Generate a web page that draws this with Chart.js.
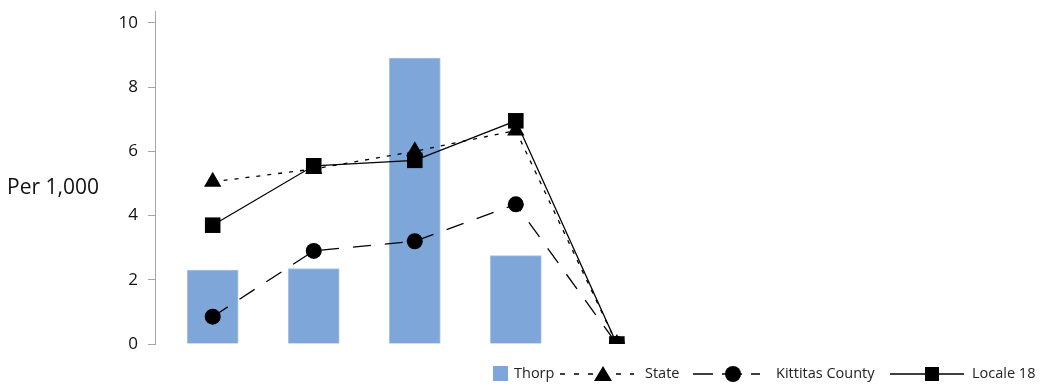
<!DOCTYPE html>
<html>
<head>
<meta charset="utf-8">
<script src="https://cdn.jsdelivr.net/npm/chart.js@4"></script>
<style>
    body { margin: 0; background: #fff; }
    #wrap { position: relative; width: 1047px; height: 386px; font-family: "Open Sans", sans-serif; }
    #ytitle { position: absolute; left: 7px; top: 172px; font-size: 21px; color: #111; white-space: nowrap; }
    .lg { position: absolute; top: 363px; font-size: 14.5px; color: #222; white-space: nowrap; line-height: 20px; }
    .sw { position: absolute; top: 364px; }
</style>
</head>
<body>
<div id="wrap">
    <canvas id="myChart" width="1047" height="386"></canvas>
    <div id="ytitle">Per 1,000</div>
    <div class="sw" style="left:493px;top:366px;width:15px;height:15px;background:#7ea6d8;"></div>
    <div class="lg" style="left:514px;">Thorp</div>
    <svg class="sw" style="left:558px;" width="80" height="20">
        <line x1="2" y1="10" x2="76" y2="10" stroke="#000" stroke-width="1.3" stroke-dasharray="5,9"></line>
        <polygon points="45,2 54,17 36,17" fill="#000"></polygon>
    </svg>
    <div class="lg" style="left:645px;">State</div>
    <svg class="sw" style="left:692px;" width="70" height="20">
        <line x1="1" y1="10" x2="68" y2="10" stroke="#000" stroke-width="1.3" stroke-dasharray="20,9"></line>
        <circle cx="41" cy="10" r="8" fill="#000"></circle>
    </svg>
    <div class="lg" style="left:776px;">Kittitas County</div>
    <svg class="sw" style="left:890px;" width="76" height="20">
        <line x1="0" y1="10" x2="74" y2="10" stroke="#000" stroke-width="1.3"></line>
        <rect x="35" y="3" width="14" height="14" fill="#000"></rect>
    </svg>
    <div class="lg" style="left:972px;">Locale 18</div>
</div>
<script>
// the reference shows no category names under the bars
const categories = ["1", "2", "3", "4", "5"];
const thorp = [2.3, 2.35, 8.9, 2.75, 0];
const state = [5.05, 5.45, 6.0, 6.65, 0];
const kittitas = [0.85, 2.9, 3.2, 4.35, 0];
const locale18 = [3.7, 5.55, 5.72, 6.95, 0];
const yTicks = [0, 2, 4, 6, 8, 10];

const toPoints = (vals) => vals.map((v, i) => ({ x: i, y: v }));

const lineSet = (label, vals, dash, style, radius, order) => ({
    type: "line",
    label: label,
    data: toPoints(vals),
    borderColor: "#000",
    borderWidth: 1.3,
    borderDash: dash,
    pointStyle: style,
    pointRadius: radius,
    pointHoverRadius: radius,
    pointBackgroundColor: "#000",
    pointBorderColor: "#000",
    pointBorderWidth: 0,
    tension: 0,
    fill: false,
    order: order,
});

const renderChart = () => {
    const ctx = document.getElementById("myChart");
    new Chart(ctx, {
        type: "bar",
        data: {
            datasets: [
                {
                    type: "bar",
                    label: "Thorp",
                    data: toPoints(thorp),
                    backgroundColor: "#7ea6d8",
                    borderColor: "#a9c3e6",
                    borderWidth: 1,
                    barThickness: 51,
                    order: 10,
                },
                lineSet("State", state, [4, 7], "triangle", 10, 3),
                lineSet("Kittitas County", kittitas, [18, 14], "circle", 8, 2),
                lineSet("Locale 18", locale18, [], "rect", 11, 1),
            ],
        },
        options: {
            responsive: false,
            animation: false,
            events: [],
            layout: { padding: { left: 0, right: 7, top: 2, bottom: 42 } },
            plugins: {
                legend: { display: false },
                tooltip: { enabled: false },
            },
            scales: {
                x: {
                    type: "linear",
                    offset: false,
                    min: -0.571,
                    max: 8.148,
                    display: false,
                },
                y: {
                    min: 0,
                    max: 10.37,
                    afterBuildTicks: (s) => {
                        s.ticks = yTicks.map((v) => ({ value: v }));
                    },
                    afterFit: (s) => {
                        s.width = 155;
                        s.paddingTop = 0;
                        s.paddingBottom = 0;
                    },
                    border: { display: true, color: "#a6a6a6", width: 1 },
                    grid: { drawOnChartArea: false, drawTicks: true, tickLength: 7, color: "#a6a6a6" },
                    ticks: {
                        padding: 10,
                        color: "#111",
                        font: { family: "Open Sans", size: 17 },
                    },
                },
            },
        },
    });
};

renderChart();
</script>
</body>
</html>
